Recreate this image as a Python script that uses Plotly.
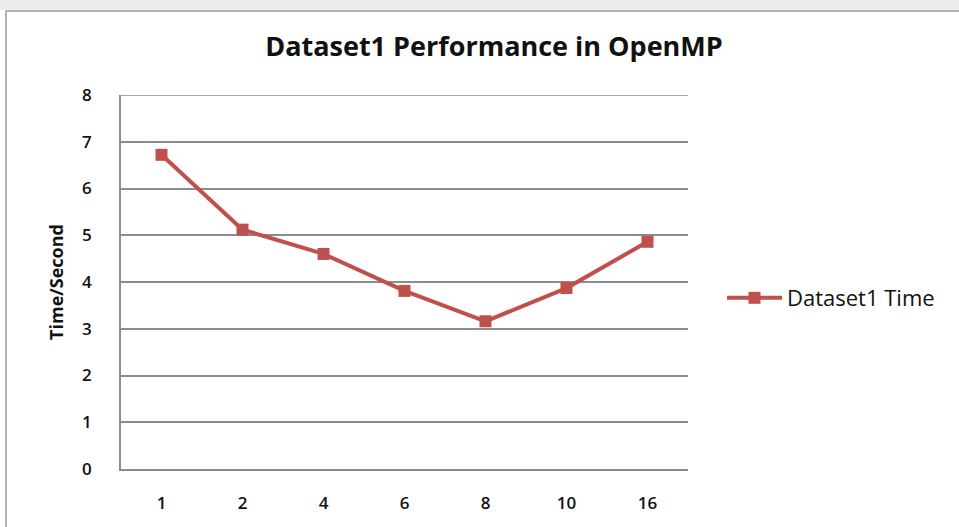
import plotly.graph_objects as go

categories = ["1", "2", "4", "6", "8", "10", "16"]
times = [6.72, 5.12, 4.60, 3.81, 3.16, 3.87, 4.86]
series_name = "Dataset1 Time"
y_ticks = [0, 1, 2, 3, 4, 5, 6, 7, 8]

W, H = 959, 527
L, R, T, B = 121, 271, 95, 58
pw, ph = W - L - R, H - T - B

def px_x(p):
    return (p - L) / pw

def px_y(p):
    return (H - B - p) / ph

red = "#C0504D"
grid = "#8C8C8C"
font = "Open Sans"
txt = "#111111"

fig = go.Figure()
fig.add_trace(go.Scatter(
    x=categories, y=times, name=series_name, mode="lines+markers",
    line=dict(color=red, width=4),
    marker=dict(symbol="square", size=12, color=red),
))

fig.update_layout(
    width=W, height=H,
    margin=dict(l=L, r=R, t=T, b=B),
    paper_bgcolor="white", plot_bgcolor="white",
    title=dict(text="<b>Dataset1 Performance in OpenMP</b>", x=px_x(494), xref="paper",
               xanchor="center", y=1 - 47 / H, yanchor="middle",
               font=dict(family=font, size=27, color=txt)),
    showlegend=True,
    legend=dict(x=px_x(722), y=px_y(298), xanchor="left", yanchor="middle",
                itemwidth=55, font=dict(family=font, size=22, color=txt),
                bgcolor="rgba(0,0,0,0)"),
    xaxis=dict(type="category", showgrid=False, showline=True, linecolor=grid, linewidth=1.5,
               ticks="", ticklabelstandoff=18,
               tickfont=dict(family=font, size=17, color=txt, weight=600), range=[-0.5, 6.5]),
    yaxis=dict(range=[0, 8], tickvals=y_ticks, showgrid=True, gridcolor=grid, gridwidth=1.5,
               showline=True, linecolor=grid, linewidth=1.5, zeroline=False, ticks="",
               ticklabelstandoff=24,
               tickfont=dict(family=font, size=17, color=txt, weight=600),
               title=dict(text="<b>Time/Second</b>", standoff=14,
                          font=dict(family=font, size=18, color=txt))),
    shapes=[
        dict(type="rect", xref="paper", yref="paper", x0=px_x(-5), x1=px_x(W + 5),
             y0=px_y(10), y1=px_y(-5), fillcolor="#ececec", line=dict(width=0), layer="below"),
        dict(type="rect", xref="paper", yref="paper", x0=px_x(6), x1=px_x(W + 20),
             y0=px_y(H + 20), y1=px_y(11), fillcolor="white",
             line=dict(color="#9a9a9a", width=1.5), layer="below"),
        dict(type="line", xref="paper", yref="y", x0=0, x1=1, y0=y_ticks[-1], y1=y_ticks[-1],
             line=dict(color=grid, width=1.5), layer="below"),
    ],
)

fig.write_html("out.html", post_script="document.body.style.margin='0';",
               config={"displayModeBar": False})
